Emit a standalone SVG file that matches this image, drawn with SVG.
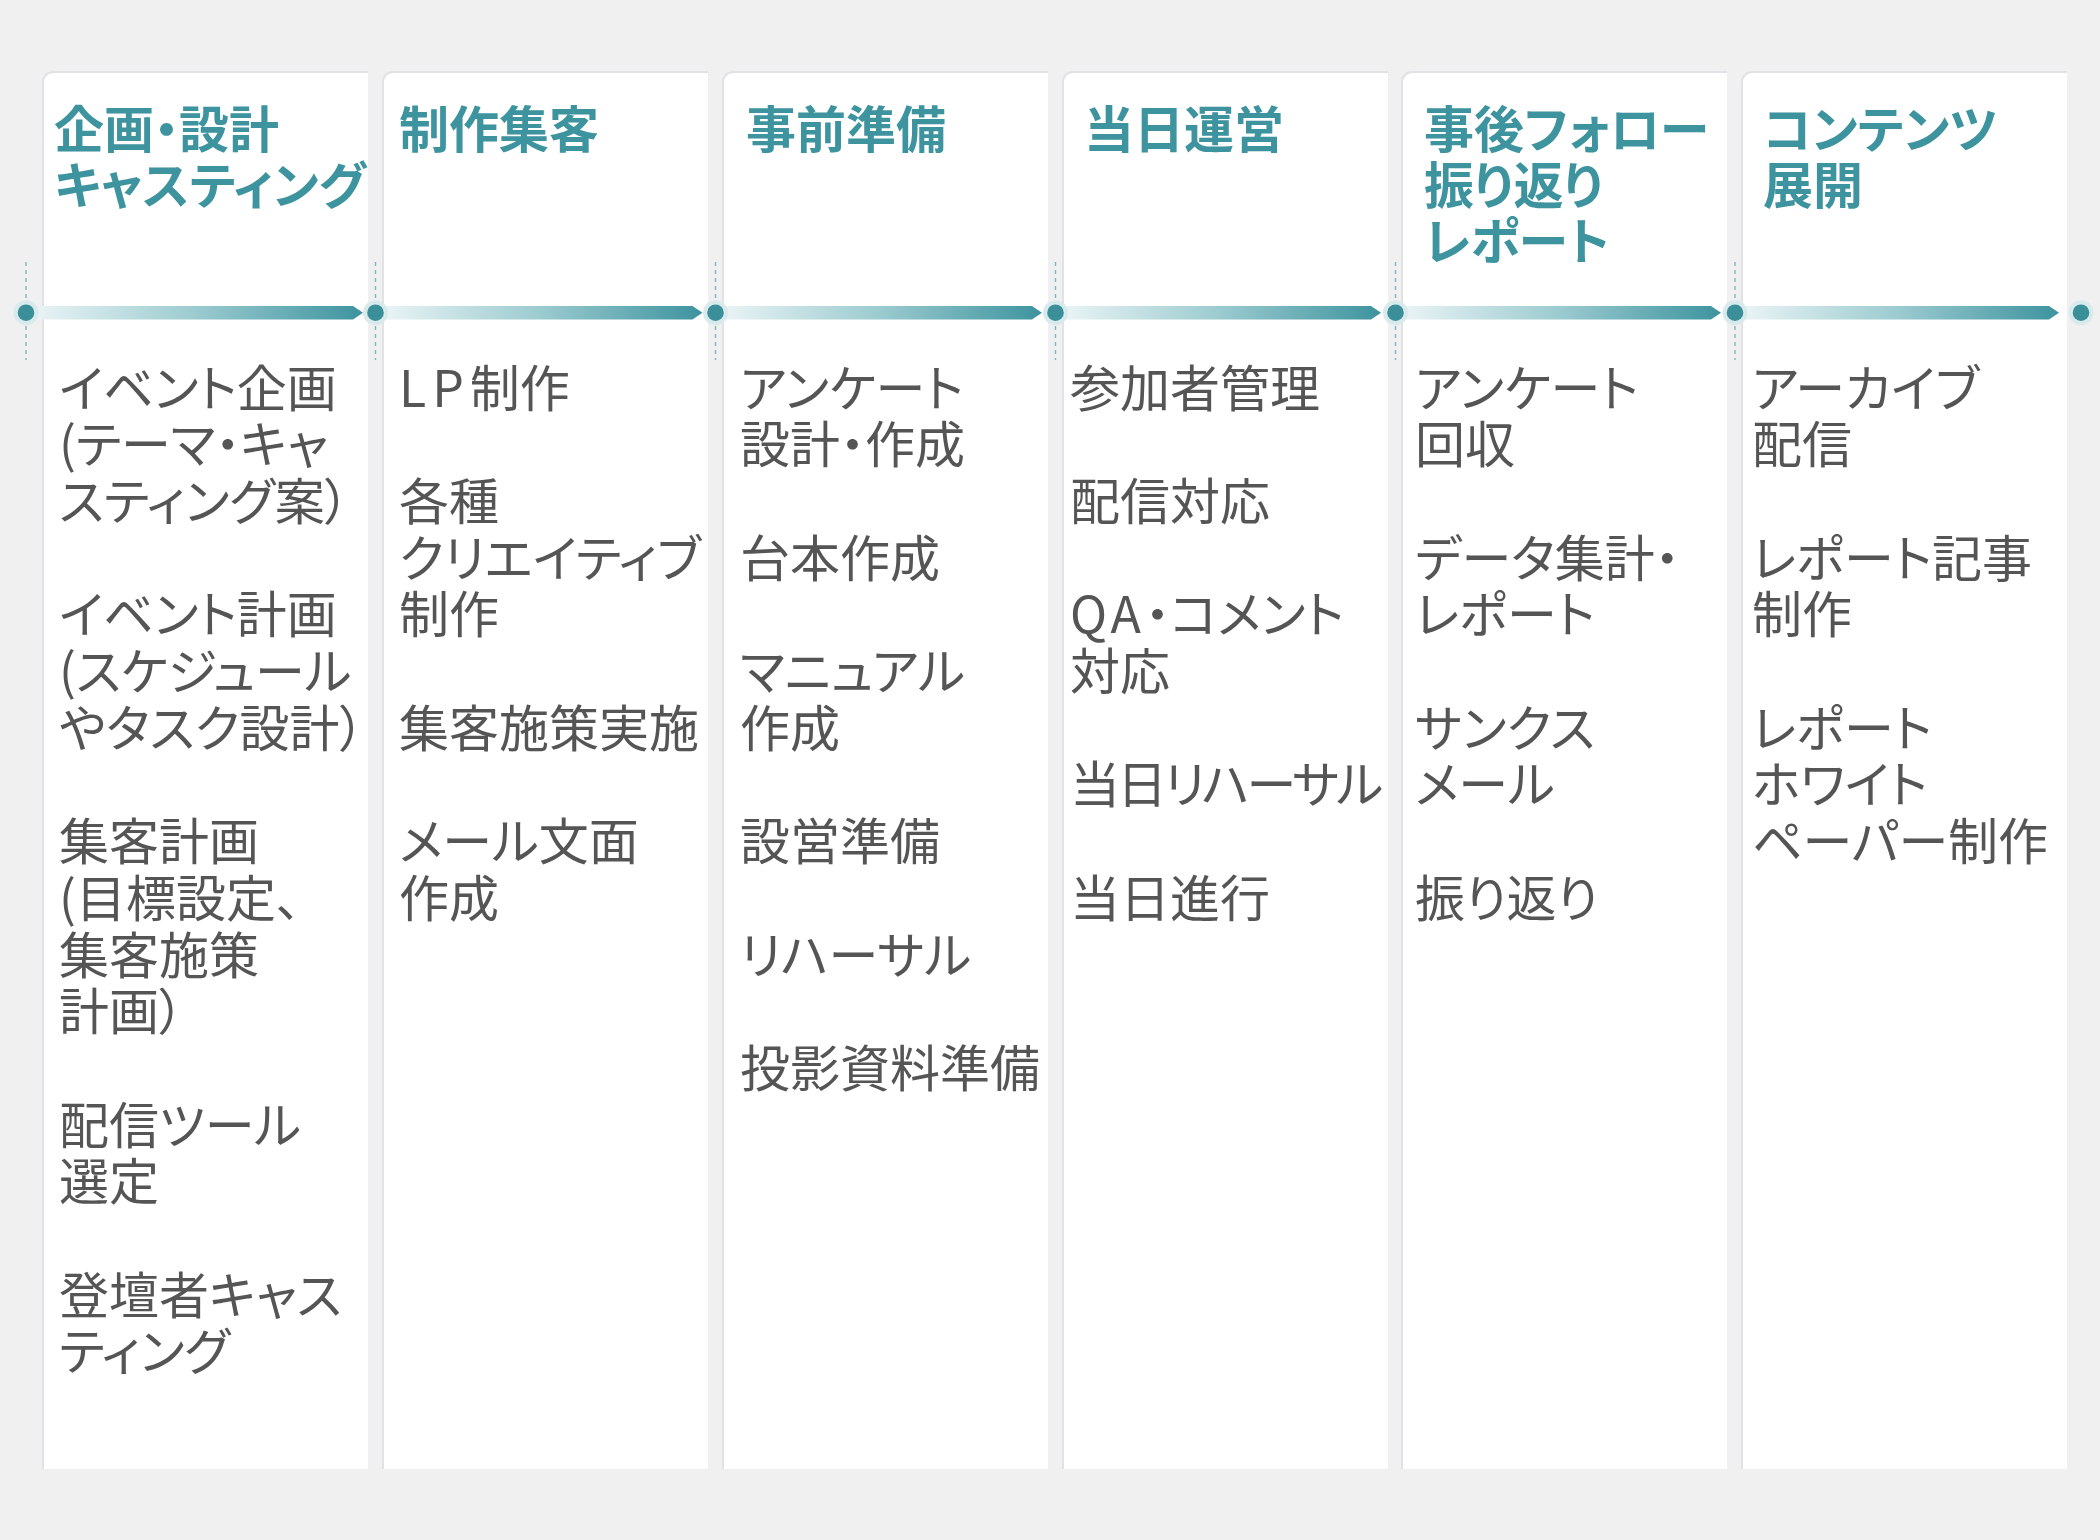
<svg xmlns="http://www.w3.org/2000/svg" width="2100" height="1540" viewBox="0 0 2100 1540">
<defs>
<linearGradient id="barGrad" x1="0" y1="0" x2="1" y2="0">
<stop offset="0" stop-color="#eef6f7"/>
<stop offset="0.5" stop-color="#9ccbd0"/>
<stop offset="1" stop-color="#3d939e"/>
</linearGradient>
<style>
.col{fill:#ffffff}
.edge{fill:none;stroke:#e1e1e6;stroke-width:2}
.head{font-family:"Noto Sans CJK JP","Noto Sans",sans-serif;font-weight:700;font-size:50px;fill:#3d949f;font-feature-settings:"palt"}
.body{font-family:"Noto Sans CJK JP","Noto Sans",sans-serif;font-weight:400;font-size:50px;fill:#555555;font-feature-settings:"palt"}
.bar{fill:url(#barGrad)}
.halo{fill:#d9eaec}
.dot{fill:#3a8f99}
.dash{stroke:#79b8c0;stroke-width:1.4;stroke-dasharray:4 4;fill:none}
</style>
</defs>
<rect x="0" y="0" width="2100" height="1540" fill="#f0f0f0"/>

<g id="col1">
<path class="col" d="M43,1469 V82 A10,10 0 0 1 53,72 H368 V1469 Z"/>
<path class="edge" d="M43,1469 V82 A10,10 0 0 1 53,72 H368"/>
<text class="head"><tspan x="54" y="148">企画・設計</tspan><tspan x="54" y="204">キャスティング</tspan></text>
<text class="body">
<tspan x="59" y="406.5">イベント企画</tspan>
<tspan x="59" y="463.2">(テーマ・キャ</tspan>
<tspan x="59" y="519.9">スティング案）</tspan>
<tspan x="59" y="633.3">イベント計画</tspan>
<tspan x="59" y="690">(スケジュール</tspan>
<tspan x="59" y="746.7">やタスク設計）</tspan>
<tspan x="59" y="860.1">集客計画</tspan>
<tspan x="59" y="916.8">(目標設定、</tspan>
<tspan x="59" y="973.5">集客施策</tspan>
<tspan x="59" y="1030.2">計画）</tspan>
<tspan x="59" y="1143.6">配信ツール</tspan>
<tspan x="59" y="1200.3">選定</tspan>
<tspan x="59" y="1313.7">登壇者キャス</tspan>
<tspan x="59" y="1370.4">ティング</tspan>
</text>
</g>

<g id="col2">
<path class="col" d="M383,1469 V82 A10,10 0 0 1 393,72 H708 V1469 Z"/>
<path class="edge" d="M383,1469 V82 A10,10 0 0 1 393,72 H708"/>
<text class="head"><tspan x="399" y="148">制作集客</tspan></text>
<text class="body">
<tspan x="399" y="406.5" letter-spacing="6">LP</tspan><tspan>制作</tspan>
<tspan x="399" y="519.9">各種</tspan>
<tspan x="399" y="576.6">クリエイティブ</tspan>
<tspan x="399" y="633.3">制作</tspan>
<tspan x="399" y="746.7">集客施策実施</tspan>
<tspan x="399" y="860.1">メール文面</tspan>
<tspan x="399" y="916.8">作成</tspan>
</text>
</g>

<g id="col3">
<path class="col" d="M723,1469 V82 A10,10 0 0 1 733,72 H1048 V1469 Z"/>
<path class="edge" d="M723,1469 V82 A10,10 0 0 1 733,72 H1048"/>
<text class="head"><tspan x="746" y="148">事前準備</tspan></text>
<text class="body">
<tspan x="740" y="406.5">アンケート</tspan>
<tspan x="740" y="463.2">設計・作成</tspan>
<tspan x="740" y="576.6">台本作成</tspan>
<tspan x="740" y="690">マニュアル</tspan>
<tspan x="740" y="746.7">作成</tspan>
<tspan x="740" y="860.1">設営準備</tspan>
<tspan x="740" y="973.5">リハーサル</tspan>
<tspan x="740" y="1086.9">投影資料準備</tspan>
</text>
</g>

<g id="col4">
<path class="col" d="M1063,1469 V82 A10,10 0 0 1 1073,72 H1388 V1469 Z"/>
<path class="edge" d="M1063,1469 V82 A10,10 0 0 1 1073,72 H1388"/>
<text class="head"><tspan x="1084" y="148">当日運営</tspan></text>
<text class="body">
<tspan x="1070" y="406.5">参加者管理</tspan>
<tspan x="1070" y="519.9">配信対応</tspan>
<tspan x="1070" y="633.3" letter-spacing="4">QA</tspan><tspan>・コメント</tspan>
<tspan x="1070" y="690">対応</tspan>
<tspan x="1070" y="803.4" letter-spacing="-3">当日リハーサル</tspan>
<tspan x="1070" y="916.8">当日進行</tspan>
</text>
</g>

<g id="col5">
<path class="col" d="M1402,1469 V82 A10,10 0 0 1 1412,72 H1727 V1469 Z"/>
<path class="edge" d="M1402,1469 V82 A10,10 0 0 1 1412,72 H1727"/>
<text class="head"><tspan x="1424" y="148">事後フォロー</tspan><tspan x="1424" y="204">振り返り</tspan><tspan x="1424" y="260">レポート</tspan></text>
<text class="body">
<tspan x="1415" y="406.5">アンケート</tspan>
<tspan x="1415" y="463.2">回収</tspan>
<tspan x="1415" y="576.6">データ集計・</tspan>
<tspan x="1415" y="633.3">レポート</tspan>
<tspan x="1415" y="746.7">サンクス</tspan>
<tspan x="1415" y="803.4">メール</tspan>
<tspan x="1415" y="916.8">振り返り</tspan>
</text>
</g>

<g id="col6">
<path class="col" d="M1742,1469 V82 A10,10 0 0 1 1752,72 H2067 V1469 Z"/>
<path class="edge" d="M1742,1469 V82 A10,10 0 0 1 1752,72 H2067"/>
<text class="head"><tspan x="1763" y="148">コンテンツ</tspan><tspan x="1763" y="204">展開</tspan></text>
<text class="body">
<tspan x="1752" y="406.5">アーカイブ</tspan>
<tspan x="1752" y="463.2">配信</tspan>
<tspan x="1752" y="576.6">レポート記事</tspan>
<tspan x="1752" y="633.3">制作</tspan>
<tspan x="1752" y="746.7">レポート</tspan>
<tspan x="1752" y="803.4">ホワイト</tspan>
<tspan x="1752" y="860.1">ペーパー制作</tspan>
</text>
</g>

<g id="connectors">
<line class="dash" x1="26" y1="262" x2="26" y2="360"/>
<line class="dash" x1="375.5" y1="262" x2="375.5" y2="360"/>
<line class="dash" x1="715.5" y1="262" x2="715.5" y2="360"/>
<line class="dash" x1="1055.5" y1="262" x2="1055.5" y2="360"/>
<line class="dash" x1="1395.5" y1="262" x2="1395.5" y2="360"/>
<line class="dash" x1="1735" y1="262" x2="1735" y2="360"/>
<path class="bar" d="M26,306 H353 L363,312.7 L353,319.4 H26 Z"/>
<path class="bar" d="M375.5,306 H692.5 L702.5,312.7 L692.5,319.4 H375.5 Z"/>
<path class="bar" d="M715.5,306 H1032 L1042,312.7 L1032,319.4 H715.5 Z"/>
<path class="bar" d="M1055.5,306 H1371 L1381,312.7 L1371,319.4 H1055.5 Z"/>
<path class="bar" d="M1395.5,306 H1711 L1721,312.7 L1711,319.4 H1395.5 Z"/>
<path class="bar" d="M1735,306 H2049 L2059,312.7 L2049,319.4 H1735 Z"/>
</g>

<g id="timeline-points">
<circle class="halo" cx="26" cy="312.7" r="12.5"/><circle class="dot" cx="26" cy="312.7" r="8.3"/>
<circle class="halo" cx="375.5" cy="312.7" r="12.5"/><circle class="dot" cx="375.5" cy="312.7" r="8.3"/>
<circle class="halo" cx="715.5" cy="312.7" r="12.5"/><circle class="dot" cx="715.5" cy="312.7" r="8.3"/>
<circle class="halo" cx="1055.5" cy="312.7" r="12.5"/><circle class="dot" cx="1055.5" cy="312.7" r="8.3"/>
<circle class="halo" cx="1395.5" cy="312.7" r="12.5"/><circle class="dot" cx="1395.5" cy="312.7" r="8.3"/>
<circle class="halo" cx="1735" cy="312.7" r="12.5"/><circle class="dot" cx="1735" cy="312.7" r="8.3"/>
<circle class="halo" cx="2081" cy="312.7" r="12.5"/><circle class="dot" cx="2081" cy="312.7" r="8.3"/>
</g>
</svg>
